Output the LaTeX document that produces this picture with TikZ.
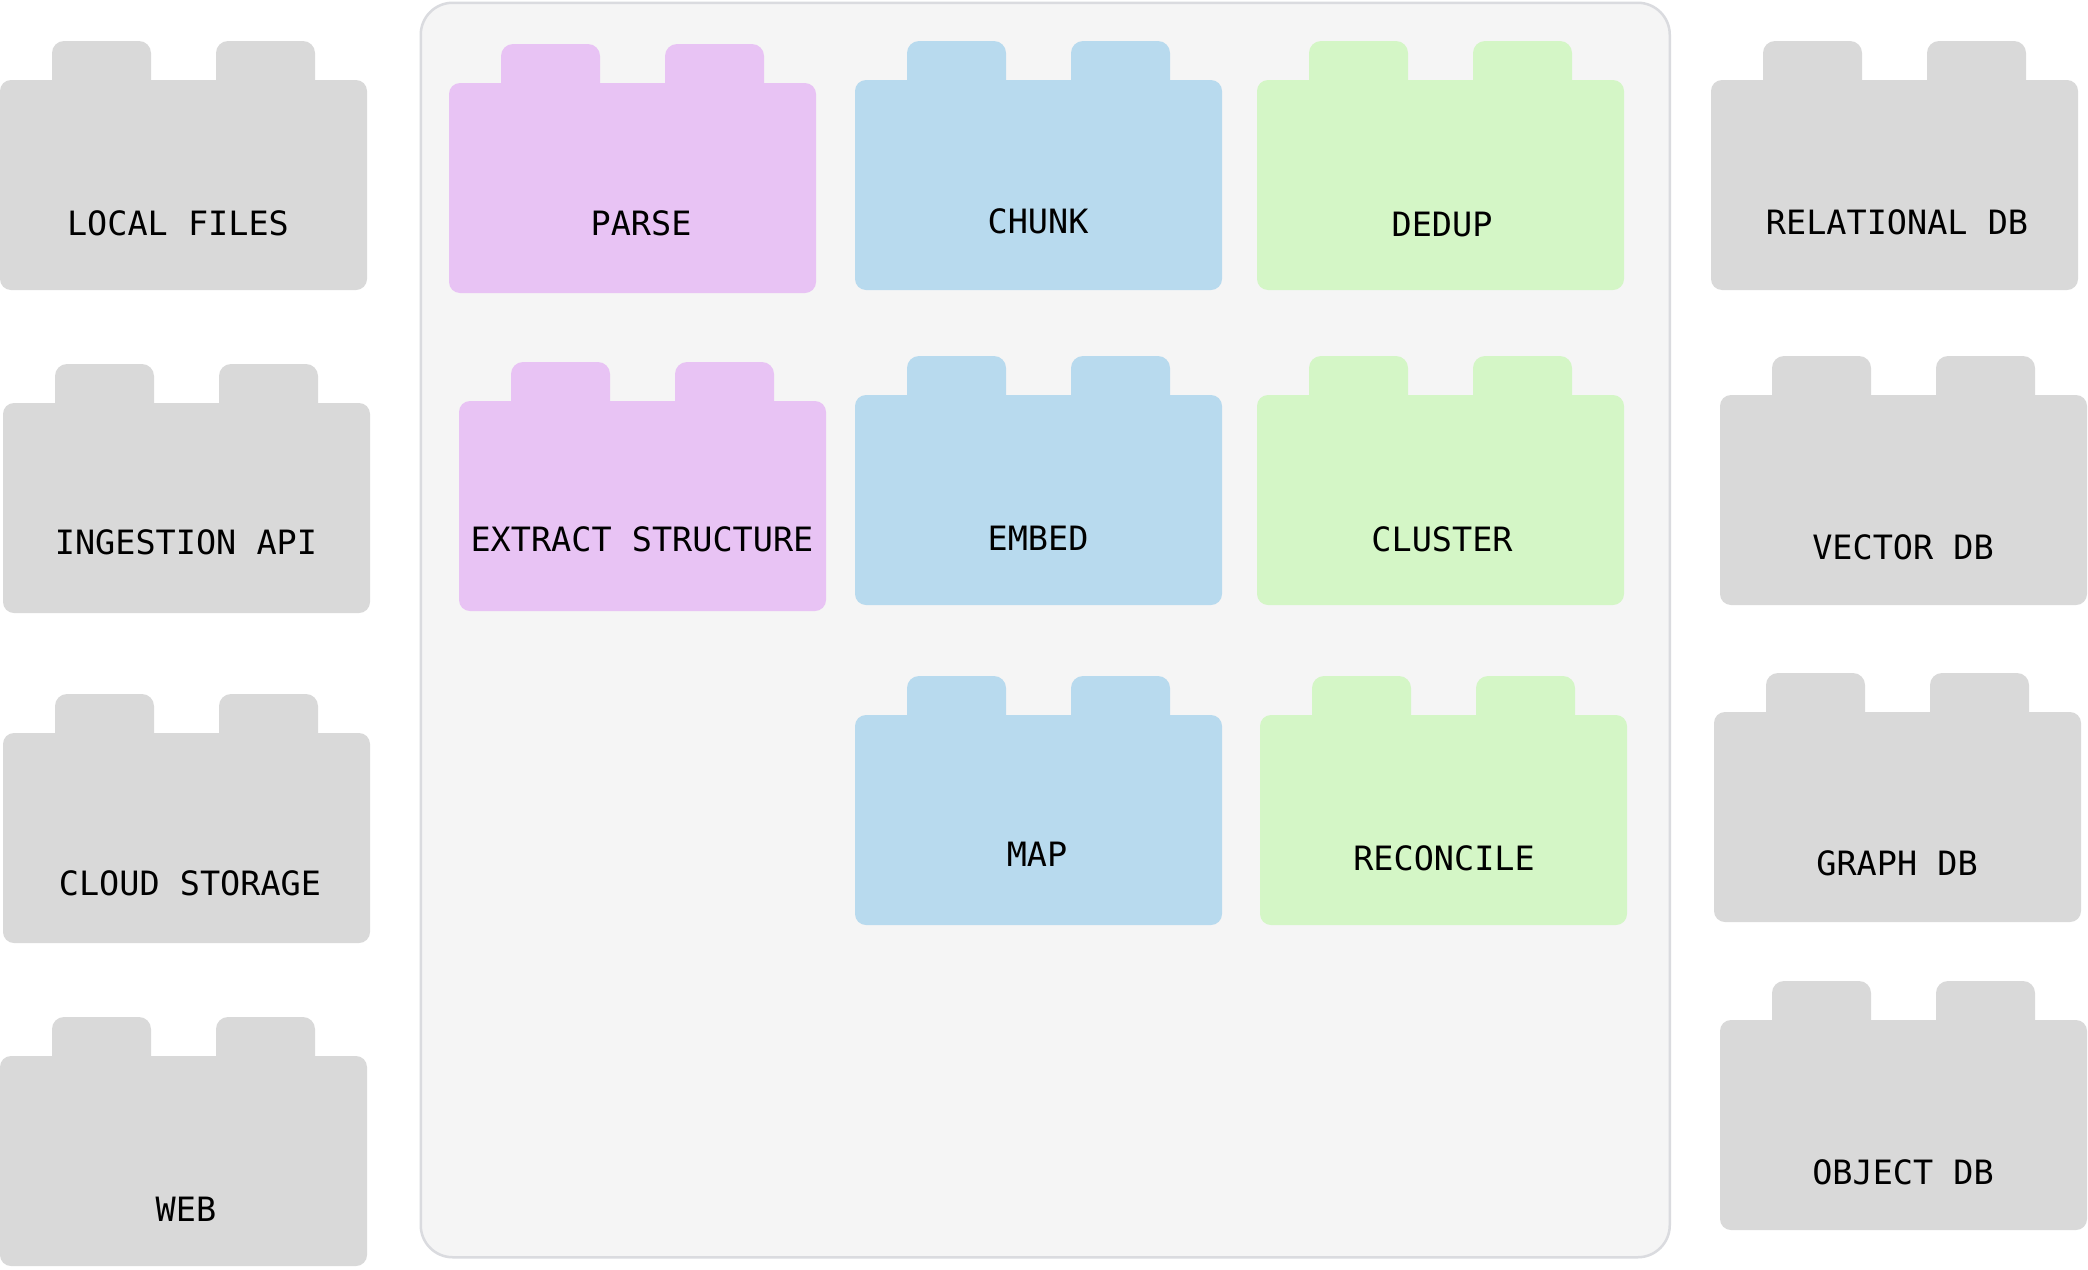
\documentclass[tikz,border=0pt]{standalone}
\usepackage{fontspec}
\setmainfont{DejaVu Sans Mono}
\definecolor{brickgray}{HTML}{D9D9D9}
\definecolor{brickpurple}{HTML}{E8C3F4}
\definecolor{brickblue}{HTML}{B8DAEE}
\definecolor{brickgreen}{HTML}{D4F6C6}
\definecolor{panelfill}{HTML}{F5F5F5}
\definecolor{panelline}{HTML}{DADBDF}
\tikzset{
  brickbody/.style={draw=none, rounded corners=11pt, minimum width=367pt, minimum height=210pt, inner sep=0pt, outer sep=0pt},
  brickstud/.style={rounded corners=12pt},
  bricklabel/.style={font=\fontsize{33.5pt}{36pt}\selectfont, text=black, inner sep=0pt},
  panel/.style={draw=panelline, line width=2.5pt, fill=panelfill, rounded corners=32pt, minimum width=1249pt, minimum height=1254.5pt, inner sep=0pt}
}
\newcommand\brick[7]{%
  \fill[brickstud, #4] (#2+52,#3-39) rectangle (#2+151,#3+20);
  \fill[brickstud, #4] (#2+216,#3-39) rectangle (#2+315,#3+20);
  \node[brickbody, fill=#4, anchor=north west] (#1) at (#2,#3) {};
  \node[bricklabel, anchor=base] (#1-t) at (#6,#7) {#5};
}
\begin{document}
\begin{tikzpicture}[x=1pt,y=-1pt]
\fill[white] (0,0) rectangle (2088,1269);
\useasboundingbox (0,0) rectangle (2088,1269);
\node[panel, anchor=north west] (pipe) at (419.5,1.5) {};
% sources
\brick{lf}{0}{80}{brickgray}{LOCAL FILES}{178}{235}
\brick{ia}{3}{403}{brickgray}{INGESTION API}{186}{554}
\brick{cs}{3}{733}{brickgray}{CLOUD STORAGE}{190}{895}
\brick{web}{0}{1056}{brickgray}{WEB}{186}{1221}
% pipeline
\brick{parse}{449}{83}{brickpurple}{PARSE}{641}{235}
\brick{extract}{459}{401}{brickpurple}{EXTRACT STRUCTURE}{642}{551}
\brick{chunk}{855}{80}{brickblue}{CHUNK}{1038}{233}
\brick{embed}{855}{395}{brickblue}{EMBED}{1038}{550}
\brick{map}{855}{715}{brickblue}{MAP}{1037}{866}
\brick{dedup}{1257}{80}{brickgreen}{DEDUP}{1442}{236}
\brick{cluster}{1257}{395}{brickgreen}{CLUSTER}{1442}{551}
\brick{reconcile}{1260}{715}{brickgreen}{RECONCILE}{1444}{870}
% sinks
\brick{rel}{1711}{80}{brickgray}{RELATIONAL DB}{1897}{234}
\brick{vec}{1720}{395}{brickgray}{VECTOR DB}{1903}{559}
\brick{graph}{1714}{712}{brickgray}{GRAPH DB}{1897}{875}
\brick{obj}{1720}{1020}{brickgray}{OBJECT DB}{1903}{1184}
\end{tikzpicture}
\end{document}
